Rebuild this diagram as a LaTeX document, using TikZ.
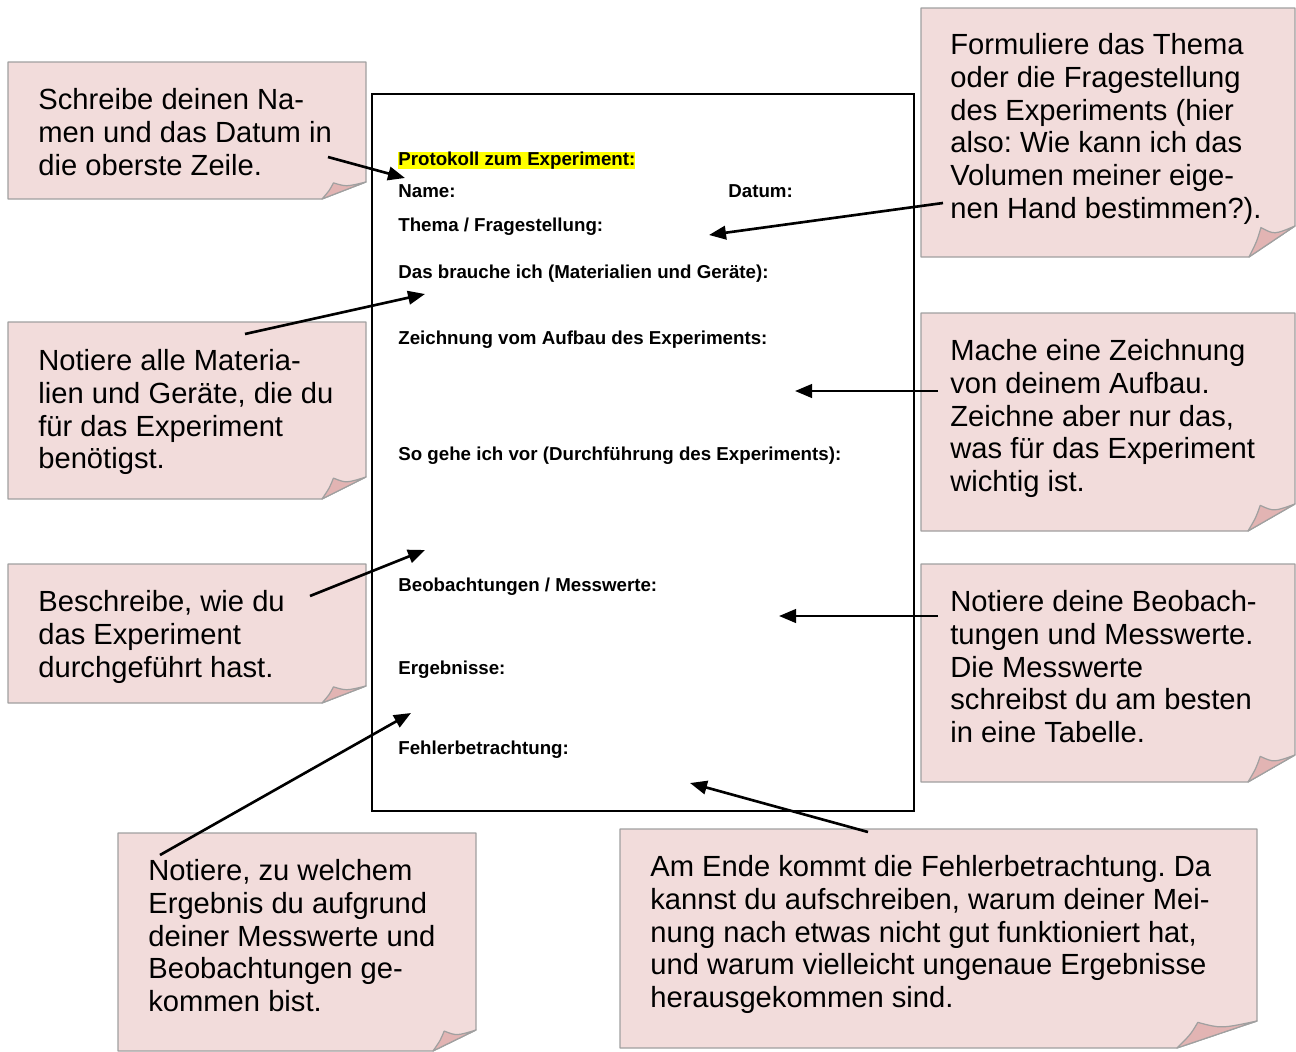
\documentclass[tikz,border=0pt]{standalone}
\usepackage{fontspec}
\setmainfont{Liberation Sans}
\usetikzlibrary{arrows.meta}
\frenchspacing
\definecolor{notefill}{RGB}{242,220,219}
\definecolor{noteedge}{RGB}{160,160,160}
\definecolor{flapfill}{RGB}{226,180,179}
\definecolor{hl}{RGB}{255,255,0}
% #1 left, #2 top, #3 right, #4 bottom, #5 fold width, #6 fold height
\newcommand\stickynote[6]{%
  \draw[noteedge, fill=notefill, line width=0.7pt, line join=round]
    (#1,#2) -- (#3,#2) -- (#3,{#4-#6}) -- ({#3-#5},#4) -- (#1,#4) -- cycle;
  \draw[noteedge, fill=flapfill, line width=0.7pt, line join=round]
    ({#3-#5},#4) .. controls ({#3-0.83*#5},{#4-0.5*#6}) .. ({#3-0.74*#5},{#4-0.95*#6})
    .. controls ({#3-0.45*#5},{#4-0.72*#6}) .. (#3,{#4-#6}) -- cycle;
}
\begin{document}
\begin{tikzpicture}[x=0.02cm,y=-0.02cm,
  notetext/.style={anchor=base west, inner sep=0pt, align=left,
    font=\fontsize{16.6}{18.6}\selectfont},
  formtext/.style={anchor=base west, inner sep=0pt,
    font=\fontsize{10.65}{12}\selectfont\bfseries},
  pointer/.style={line width=1.5pt, -{Triangle[length=0.34cm,width=0.27cm]}},
  frame/.style={draw=black, line width=0.9pt}]
\useasboundingbox (0,0) rectangle (1296,1052);
% form
\draw[frame] (372,94) rectangle (914,811);
\node[formtext, fill=hl] (f1) at (398,165.5) {Protokoll zum Experiment:};
\node[formtext] (f2) at (398,197.5) {Name:};
\node[formtext] (f2b) at (728,197.5) {Datum:};
\node[formtext] (f3) at (398,231.5) {Thema / Fragestellung:};
\node[formtext] (f4) at (398,278.5) {Das brauche ich (Materialien und Geräte):};
\node[formtext] (f5) at (398,344.5) {Zeichnung vom Aufbau des Experiments:};
\node[formtext] (f6) at (398,460.5) {So gehe ich vor (Durchführung des Experiments):};
\node[formtext] (f7) at (398,591.5) {Beobachtungen / Messwerte:};
\node[formtext] (f8) at (398,674.5) {Ergebnisse:};
\node[formtext] (f9) at (398,754.5) {Fehlerbetrachtung:};
% notes
\stickynote{8}{62}{366}{199}{44}{17}
\stickynote{921}{8}{1295}{257}{46}{31}
\stickynote{8}{322}{366}{499}{44}{22}
\stickynote{921}{313}{1295}{531}{47}{27}
\stickynote{8}{564}{366}{703}{44}{17}
\stickynote{921}{564}{1295}{782}{47}{27}
\stickynote{118}{833}{476}{1051}{43}{21}
\stickynote{620}{829}{1257}{1048}{80}{27}
% (anchor base = baseline of the last line)
\node[notetext] (nA) at (38,175) {Schreibe deinen Na-\\men und das Datum in\\die oberste Zeile.};
\node[notetext] (nB) at (950,218.25) {Formuliere das Thema\\oder die Fragestellung\\des Experiments (hier\\also: Wie kann ich das\\Volumen meiner eige-\\nen Hand bestimmen?).};
\node[notetext] (nC) at (38,468.75) {Notiere alle Materia-\\lien und Geräte, die du\\für das Experiment\\benötigst.};
\node[notetext] (nD) at (950,491.5) {Mache eine Zeichnung\\von deinem Aufbau.\\Zeichne aber nur das,\\was für das Experiment\\wichtig ist.};
\node[notetext] (nE) at (38,677) {Beschreibe, wie du\\das Experiment\\durchgeführt hast.};
\node[notetext] (nF) at (950,742.5) {Notiere deine Beobach-\\tungen und Messwerte.\\Die Messwerte\\schreibst du am besten\\in eine Tabelle.};
\node[notetext] (nG) at (148,1011.5) {Notiere, zu welchem\\Ergebnis du aufgrund\\deiner Messwerte und\\Beobachtungen ge-\\kommen bist.};
\node[notetext] (nH) at (650,1007.5) {Am Ende kommt die Fehlerbetrachtung. Da\\kannst du aufschreiben, warum deiner Mei-\\nung nach etwas nicht gut funktioniert hat,\\und warum vielleicht ungenaue Ergebnisse\\herausgekommen sind.};
% connector ends
\coordinate (sA) at (328,157); \coordinate (eA) at (405,178);
\coordinate (sB) at (943,203); \coordinate (eB) at (709,235);
\coordinate (sC) at (245,334); \coordinate (eC) at (425,294);
\coordinate (sD) at (938,391); \coordinate (eD) at (795,391);
\coordinate (sE) at (310,596); \coordinate (eE) at (425,550);
\coordinate (sF) at (938,616); \coordinate (eF) at (779,616);
\coordinate (sG) at (160,855); \coordinate (eG) at (411,713);
\coordinate (sH) at (868,832); \coordinate (eH) at (690,783);
\foreach \n in {A,B,C,D,E,F,G,H} \draw[pointer] (s\n) -- (e\n);
\end{tikzpicture}
\end{document}
